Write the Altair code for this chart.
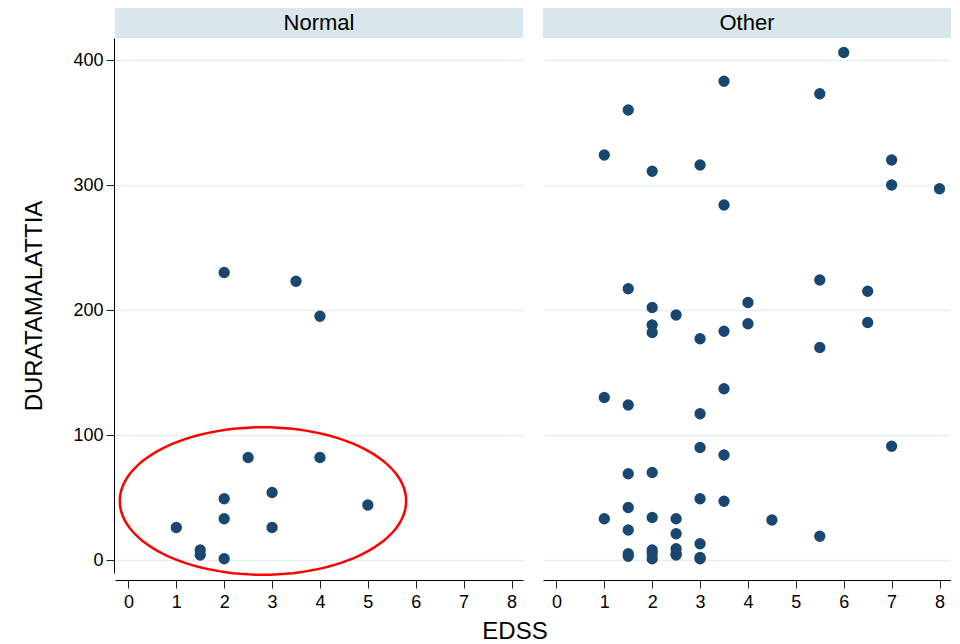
import altair as alt
import numpy as np
import pandas as pd

# ---- data ----
normal_edss = [2, 3.5, 4, 2.5, 4, 3, 2, 5, 2, 1, 3, 1.5, 1.5, 2]
normal_dur = [230, 223, 195, 82, 82, 54, 49, 44, 33, 26, 26, 8, 4, 1]

other_edss = [6, 3.5, 5.5, 1.5, 1, 3, 2, 7, 7, 8, 3.5, 5.5, 1.5, 6.5, 4, 2, 2.5, 4,
              6.5, 2, 3.5, 2, 3, 5.5, 3.5, 1, 1.5, 3, 7, 3, 3.5, 2, 1.5, 3, 3.5,
              1.5, 1, 2, 2.5, 4.5, 1.5, 2.5, 5.5, 3, 1.5, 1.5, 2, 2, 2, 2.5, 2.5,
              2.5, 3, 3]
other_dur = [406, 383, 373, 360, 324, 316, 311, 320, 300, 297, 284, 224, 217, 215,
             206, 202, 196, 189, 190, 188, 183, 182, 177, 170, 137, 130, 124, 117,
             91, 90, 84, 70, 69, 49, 47, 42, 33, 34, 33, 32, 24, 21, 19, 13, 5, 3,
             8, 5, 1, 9, 5, 4, 2, 1]

groups = ["Normal", "Other"]
x_ticks = [0, 1, 2, 3, 4, 5, 6, 7, 8]
y_ticks = [0, 100, 200, 300, 400]

# red ellipse annotation (Normal panel): centre and semi-axes in data units
ell_cx, ell_cy, ell_rx, ell_ry = 2.81, 47.2, 2.99, 59.0

# ---- build table ----
rows = []
for e, d in zip(normal_edss, normal_dur):
    rows.append({"group": "Normal", "EDSS": e, "DUR": d, "kind": "pt", "ord": 0})
for e, d in zip(other_edss, other_dur):
    rows.append({"group": "Other", "EDSS": e, "DUR": d, "kind": "pt", "ord": 0})
t = np.linspace(0, 2 * np.pi, 121)
for i, a in enumerate(t):
    rows.append({"group": "Normal", "EDSS": ell_cx + ell_rx * np.cos(a),
                 "DUR": ell_cy + ell_ry * np.sin(a), "kind": "ell", "ord": i})
df = pd.DataFrame(rows)

W = 408
H = 535
FONT = "Liberation Sans"
NAVY = "#1a476f"
BAND = "#d9e6eb"
GRID = "#e6eff1"

xscale = alt.Scale(domain=[-0.28, 8.24], nice=False, zero=False)
yscale = alt.Scale(domain=[-10.4, 417.6], nice=False, zero=False)

xaxis = alt.Axis(values=x_ticks, title=None, grid=False, tickSize=8, tickColor="#222",
                 domainColor="#000", labelFontSize=18, labelFont=FONT, labelColor="#000",
                 labelPadding=5, labelAngle=0, format="d")
yaxis = alt.Axis(values=y_ticks, title="DURATAMALATTIA", grid=True, gridColor=GRID,
                 gridWidth=1.5, tickSize=8, tickColor="#222", domainColor="#000",
                 labelFontSize=18, labelFont=FONT, labelColor="#000", labelPadding=3,
                 titleFontSize=24, titleFont=FONT, titleFontWeight="normal",
                 titleColor="#000", titlePadding=26, format="d")

band = alt.Chart().transform_aggregate(n="count()", groupby=["group"]).mark_rect(
    color=BAND).encode(x=alt.value(0), x2=alt.value(W), y=alt.value(-30), y2=alt.value(0))

label = alt.Chart().transform_aggregate(n="count()", groupby=["group"]).mark_text(
    font=FONT, fontSize=22, color="#000", baseline="middle", align="center").encode(
    text="group:N", x=alt.value(W / 2), y=alt.value(-15))

points = alt.Chart().transform_filter(alt.datum.kind == "pt").mark_circle(
    size=128, color=NAVY, opacity=1).encode(
    x=alt.X("EDSS:Q", scale=xscale, axis=xaxis),
    y=alt.Y("DUR:Q", scale=yscale, axis=yaxis))

ellipse = alt.Chart().transform_filter(alt.datum.kind == "ell").mark_line(
    color="#ff0000", strokeWidth=2.5).encode(
    x=alt.X("EDSS:Q", scale=xscale, axis=xaxis),
    y=alt.Y("DUR:Q", scale=yscale, axis=yaxis),
    order="ord:Q")

chart = alt.layer(band, label, points, ellipse, data=df).properties(
    width=W, height=H
).facet(
    column=alt.Column("group:N", sort=groups, header=alt.Header(title=None, labels=False)),
    spacing=20,
).properties(
    padding={"left": 14, "top": 0, "right": 0, "bottom": 0},
    background="white",
    title=alt.TitleParams("EDSS", orient="bottom", anchor="middle", fontSize=24,
                          font=FONT, fontWeight="normal", color="#000", dx=28, offset=9),
).configure_view(stroke=None)

chart.save("out.html", embed_options={"renderer": "svg", "actions": False})
